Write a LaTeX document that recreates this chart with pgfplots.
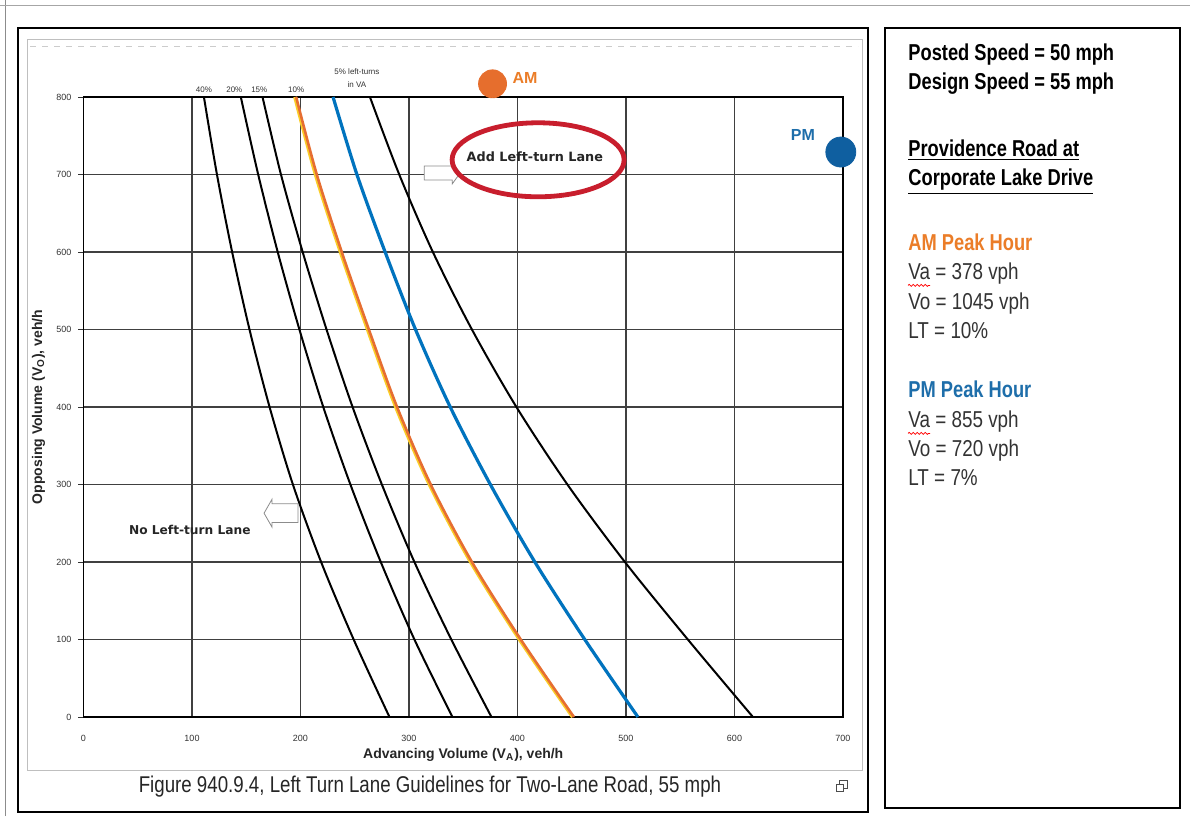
\documentclass[border=0pt]{standalone}
\usepackage{fontspec}
\setmainfont{Liberation Sans}
\newfontfamily\narrow[FakeStretch=0.82]{Liberation Sans}
\newfontfamily\narrowbold[FakeStretch=0.795]{Liberation Sans Bold}
\newfontfamily\verd{DejaVu Sans}
\usepackage{pgfplots}
\pgfplotsset{compat=1.18}
\usetikzlibrary{decorations.pathmorphing}

\definecolor{amorange}{RGB}{230,110,45}
\definecolor{amtext}{RGB}{235,125,40}
\definecolor{pmblue}{RGB}{15,95,160}
\definecolor{pmtext}{RGB}{30,110,170}
\definecolor{curveblue}{RGB}{0,115,190}
\definecolor{curveorange}{RGB}{230,110,50}
\definecolor{curveyellow}{RGB}{250,205,40}
\definecolor{ringred}{RGB}{200,30,45}

\begin{document}
\begin{tikzpicture}[x=1pt,y=1pt]
\useasboundingbox (0,0) rectangle (595,408);
\fill[white] (0,0) rectangle (595,408);

% page edges and panel frames
\draw[black!45, line width=0.4pt] (2.5,0) -- (2.5,408);
\draw[black!35, line width=0.4pt] (0,405.5) -- (595,405.5);
\draw[black, line width=1pt] (9,2) rectangle (434,394);
\draw[black, line width=1pt] (442.5,4) rectangle (590,394);
\draw[black!25, line width=0.5pt] (13.5,23) rectangle (431,388);
\draw[black!20, line width=0.4pt, dashed] (15,385) -- (429,385);

\begin{axis}[
  at={(41.75pt,49.5pt)}, anchor=south west,
  scale only axis, width=379.75pt, height=310pt,
  xmin=0, xmax=700, ymin=0, ymax=800,
  xtick={0,100,...,700}, ytick={0,100,...,800},
  xtick pos=left, ytick pos=left,
  grid=major, grid style={black!75, line width=0.65pt},
  axis line style={black, line width=0.8pt},
  tick align=outside, major tick length=2.5pt,
  tick style={black!80, line width=0.5pt},
  xtick style={draw=none},
  /pgf/number format/assume math mode=true,
  ticklabel style={font=\fontsize{4.5}{5}\selectfont, text=black!80},
  xticklabel style={yshift=-3pt},
  xlabel={\bfseries Advancing Volume (V\textsubscript{A}), veh/h},
  ylabel={\bfseries Opposing Volume (V\textsubscript{O}), veh/h},
  label style={font=\fontsize{7}{8}\selectfont, text=black!85},
  xlabel style={at={([yshift=-19pt]axis description cs:0.5,0)}, anchor=center},
  ylabel style={at={([xshift=-22.5pt]axis description cs:0,0.5)}, anchor=center},
  clip=false,
]
% 40%
\addplot[black, line width=1pt, smooth] coordinates {
(111,800) (123,700) (137,600) (153,500) (171.5,400) (193,300) (219,200) (249,100) (282,0)};
% 20%
\addplot[black, line width=1pt, smooth] coordinates {
(145,800) (161,700) (179,600) (199,500) (221,400) (246,300) (274,200) (305,100) (340,0)};
% 15%
\addplot[black, line width=1pt, smooth] coordinates {
(165,800) (182,700) (202,600) (224,500) (248,400) (275,300) (305,200) (339,100) (376,0)};
% 10% (yellow under orange)
\addplot[curveyellow, line width=1.8pt, smooth, xshift=-0.6pt] coordinates {
(196,800) (215,700) (238,600) (263,500) (289,400) (320,300) (358,200) (403,100) (452,0)};
\addplot[curveorange, line width=1.3pt, smooth] coordinates {
(196,800) (215,700) (238,600) (263,500) (289,400) (320,300) (358,200) (403,100) (452,0)};
% 7% (PM)
\addplot[curveblue, line width=1.6pt, smooth] coordinates {
(230,800) (252,700) (278,600) (306,500) (338,400) (375,300) (416,200) (462,100) (511,0)};
% 5%
\addplot[black, line width=1pt, smooth] coordinates {
(264,800) (291,700) (322,600) (358,500) (399,400) (446,300) (499,200) (557,100) (617,0)};

% AM and PM points
\addplot[only marks, mark=*, mark size=7pt, color=amorange] coordinates {(377,817)};
\addplot[only marks, mark=*, mark size=7.5pt, color=pmblue] coordinates {(698,729)};

% curve labels
\begin{scope}[font=\fontsize{4}{4.5}\selectfont, text=black!80]
\node at (axis cs:111,809) {40\%};
\node at (axis cs:139,809) {20\%};
\node at (axis cs:162,809) {15\%};
\node at (axis cs:196,809) {10\%};
\node at (axis cs:252,833) {5\% left-turns};
\node at (axis cs:252,816) {in VA};
\end{scope}
\node[font=\bfseries\fontsize{8}{9}\selectfont, text=amtext] at (axis cs:407,824) {AM};
\node[font=\bfseries\fontsize{8}{9}\selectfont, text=pmtext] at (axis cs:663,751) {PM};

% annotations
\draw[black!45, line width=0.4pt, fill=white]
  (axis cs:166.4,263) -- ++(4pt,7pt) -- ++(0,-2.3pt) -- ++(13pt,0) -- ++(0,-9.4pt)
  -- ++(-13pt,0) -- ++(0,-2.3pt) -- cycle;
\node[font=\verd\bfseries\fontsize{6.1}{7}\selectfont, text=black!85] at (axis cs:98,241) {No Left-turn Lane};
\draw[black!45, line width=0.4pt, fill=white]
  (axis cs:314,711) -- ++(14pt,0) -- ++(0,2pt) -- ++(4pt,-5.5pt) -- ++(-4pt,-5.5pt)
  -- ++(0,2pt) -- ++(-14pt,0) -- cycle;
\draw[ringred, line width=2.4pt] (axis cs:419,719) ellipse [x radius=43pt, y radius=18.5pt];
\node[font=\verd\bfseries\fontsize{6.4}{7}\selectfont, text=black!85] at (axis cs:416,723) {Add Left-turn Lane};
\end{axis}

% caption
\node[font=\narrow\fontsize{11.4}{13}\selectfont, text=black!85] at (215,14.5)
  {Figure 940.9.4, Left Turn Lane Guidelines for Two-Lane Road, 55 mph};
\draw[black!70, line width=0.4pt] (419.5,14) rectangle (423.5,18);
\draw[black!70, line width=0.4pt, fill=white] (418,12.5) rectangle (421.5,16);

% right panel
\begin{scope}[every node/.style={anchor=base west, inner sep=0pt}]
\node[font=\narrowbold\fontsize{11.5}{13}\selectfont] at (454,377.5) {Posted Speed = 50 mph};
\node[font=\narrowbold\fontsize{11.5}{13}\selectfont] at (454,363) {Design Speed = 55 mph};
\node[font=\narrowbold\fontsize{11.5}{13}\selectfont] at (454,330) {\underline{Providence Road at}};
\node[font=\narrowbold\fontsize{11.5}{13}\selectfont] at (454,315) {\underline{Corporate Lake Drive}};
\node[font=\narrowbold\fontsize{11.5}{13}\selectfont, text=amtext] at (454,283) {AM Peak Hour};
\node[font=\narrow\fontsize{11.5}{13}\selectfont, text=black!80] at (454,268.5) {Va = 378 vph};
\node[font=\narrow\fontsize{11.5}{13}\selectfont, text=black!80] at (454,253.5) {Vo = 1045 vph};
\node[font=\narrow\fontsize{11.5}{13}\selectfont, text=black!80] at (454,239) {LT = 10\%};
\node[font=\narrowbold\fontsize{11.5}{13}\selectfont, text=pmtext] at (454,209.5) {PM Peak Hour};
\node[font=\narrow\fontsize{11.5}{13}\selectfont, text=black!80] at (454,194.5) {Va = 855 vph};
\node[font=\narrow\fontsize{11.5}{13}\selectfont, text=black!80] at (454,180) {Vo = 720 vph};
\node[font=\narrow\fontsize{11.5}{13}\selectfont, text=black!80] at (454,165.5) {LT = 7\%};
\end{scope}
\draw[red, line width=0.4pt, decorate, decoration={snake, amplitude=0.5pt, segment length=2pt}]
  (454,265.3) -- (465,265.3);
\draw[red, line width=0.4pt, decorate, decoration={snake, amplitude=0.5pt, segment length=2pt}]
  (454,191.3) -- (465,191.3);
\end{tikzpicture}
\end{document}
